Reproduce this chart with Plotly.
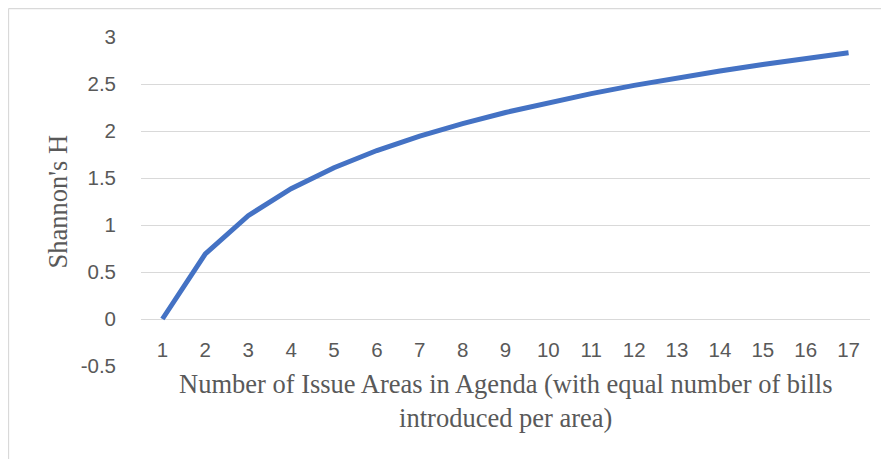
import plotly.graph_objects as go

areas = list(range(1, 18))
shannon_h = [0.0, 0.693, 1.099, 1.386, 1.609, 1.792, 1.946, 2.079, 2.197,
             2.303, 2.398, 2.485, 2.565, 2.639, 2.708, 2.773, 2.833]
y_ticks = [-0.5, 0, 0.5, 1, 1.5, 2, 2.5, 3]
y_tick_labels = ["-0.5", "0", "0.5", "1", "1.5", "2", "2.5", "3"]
x_title = "Number of Issue Areas in Agenda (with equal number of bills<br>introduced per area)"
y_title = "Shannon's H"

y_min, y_max = -0.5, 3
zero_frac = (0 - y_min) / (y_max - y_min)

FW, FH = 881, 451
L, R, T, B = 133, 19, 29, 93
W = FW - L - R
H = FH - T - B

fig = go.Figure()
fig.add_trace(go.Scatter(
    x=areas, y=shannon_h, mode="lines",
    line=dict(color="#4472C4", width=5),
    hoverinfo="skip",
))

tick_font = dict(family="Liberation Sans, Arial, sans-serif", size=20.5, color="#595959")
title_font = dict(family="Liberation Serif, Times New Roman, serif", size=26.5, color="#595959")

def px_to_paper_y(py):
    return 1 - (py - T) / H

def px_to_paper_x(px):
    return (px - L) / W

fig.update_layout(
    width=FW, height=FH,
    margin=dict(l=L, r=R, t=T, b=B, autoexpand=False),
    paper_bgcolor="white", plot_bgcolor="white",
    showlegend=False,
    xaxis=dict(
        range=[0.5, 17.5], tickmode="array", tickvals=areas,
        ticktext=[str(a) for a in areas],
        showgrid=False, zeroline=False, showline=False, ticks="",
        tickfont=tick_font, anchor="free", position=zero_frac,
        ticklabelstandoff=16,
    ),
    yaxis=dict(
        range=[y_min, y_max], tickmode="array", tickvals=y_ticks,
        ticktext=y_tick_labels, showgrid=True, gridcolor="#D9D9D9",
        gridwidth=1.3, zeroline=False, showline=False, ticks="",
        tickfont=tick_font, ticklabelstandoff=24,
    ),
    shapes=[
        dict(type="line", xref="paper", yref="paper",
             x0=px_to_paper_x(0.5), x1=px_to_paper_x(FW), y0=px_to_paper_y(0.5), y1=px_to_paper_y(0.5),
             line=dict(color="#D9D9D9", width=1.3)),
        dict(type="line", xref="paper", yref="paper",
             x0=px_to_paper_x(0.5), x1=px_to_paper_x(0.5), y0=px_to_paper_y(0.5), y1=px_to_paper_y(FH),
             line=dict(color="#D9D9D9", width=1.3)),
    ],
    annotations=[
        dict(text=x_title, xref="paper", yref="paper",
             x=0.5, y=px_to_paper_y(393), xanchor="center", yanchor="middle",
             showarrow=False, font=title_font, align="center"),
        dict(text=y_title, xref="paper", yref="paper",
             x=px_to_paper_x(49), y=0.5, xanchor="center", yanchor="middle",
             textangle=-90, showarrow=False, font=title_font),
    ],
)

fig.write_html("out.html")
